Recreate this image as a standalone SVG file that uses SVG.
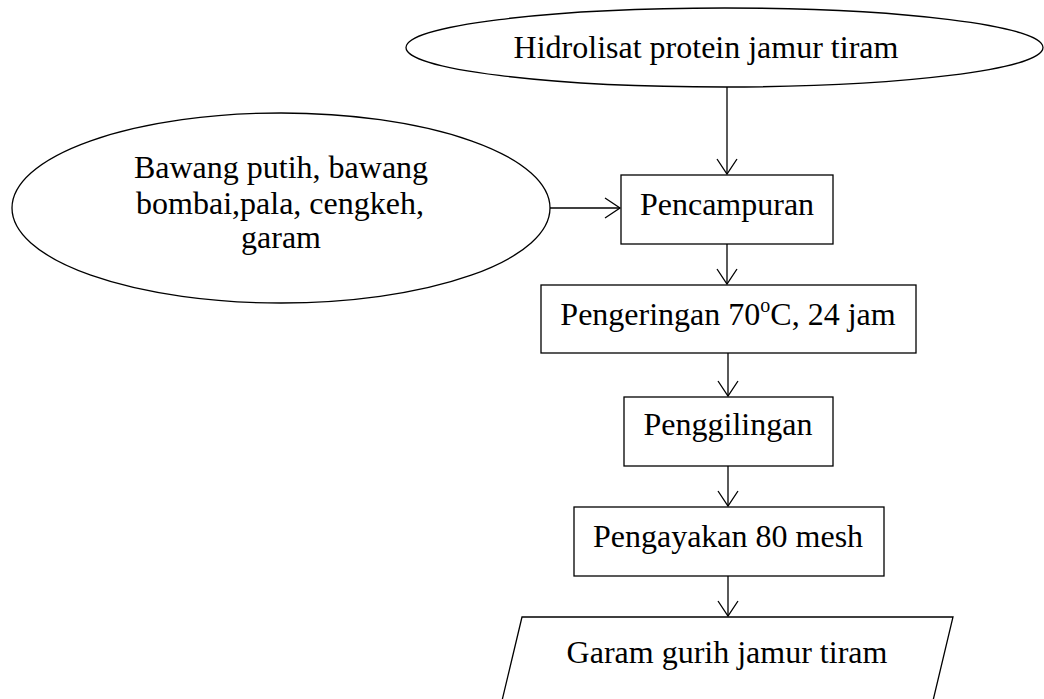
<svg xmlns="http://www.w3.org/2000/svg" width="1044" height="699" viewBox="0 0 1044 699">
<style>
.shape{fill:#ffffff;stroke:#000000;stroke-width:1.3}
.lbl{font-family:"Liberation Serif","Times New Roman",serif;font-size:32px;fill:#000000;text-anchor:middle}
.conn{fill:none;stroke:#000000;stroke-width:1.3}
</style>
<defs>
<marker id="arr" viewBox="-17 -12 19 24" markerWidth="19" markerHeight="24" refX="0" refY="0" orient="auto" markerUnits="userSpaceOnUse">
<path d="M-15,-10 L0,0 L-15,10" fill="none" stroke="#000000" stroke-width="1.3"/>
</marker>
</defs>
<rect x="0" y="0" width="1044" height="699" fill="#ffffff"/>
<g id="connectors">
<line class="conn" x1="727" y1="87" x2="727" y2="174" marker-end="url(#arr)"/>
<line class="conn" x1="550" y1="208" x2="620" y2="208" marker-end="url(#arr)"/>
<line class="conn" x1="727" y1="244" x2="727" y2="284" marker-end="url(#arr)"/>
<line class="conn" x1="728" y1="353" x2="728" y2="396" marker-end="url(#arr)"/>
<line class="conn" x1="728" y1="466" x2="728" y2="506" marker-end="url(#arr)"/>
<line class="conn" x1="728" y1="576" x2="728" y2="616" marker-end="url(#arr)"/>
</g>
<g id="node-hidrolisat">
<ellipse class="shape" cx="724.5" cy="47.5" rx="318.5" ry="39.5"/>
<text class="lbl" x="706" y="58">Hidrolisat protein jamur tiram</text>
</g>
<g id="node-bumbu">
<ellipse class="shape" cx="281" cy="208" rx="269" ry="95"/>
<text class="lbl" x="281" y="178">Bawang putih, bawang</text>
<text class="lbl" x="280" y="214">bombai,pala, cengkeh,</text>
<text class="lbl" x="281" y="248">garam</text>
</g>
<g id="node-pencampuran">
<rect class="shape" x="621" y="175" width="212" height="69"/>
<text class="lbl" x="727" y="215">Pencampuran</text>
</g>
<g id="node-pengeringan">
<rect class="shape" x="541" y="285" width="375" height="68"/>
<text class="lbl" x="728" y="325">Pengeringan 70<tspan font-size="20" dy="-13">o</tspan><tspan dy="13">C, 24 jam</tspan></text>
</g>
<g id="node-penggilingan">
<rect class="shape" x="624" y="397" width="209" height="69"/>
<text class="lbl" x="728" y="435">Penggilingan</text>
</g>
<g id="node-pengayakan">
<rect class="shape" x="574" y="507" width="310" height="69"/>
<text class="lbl" x="728" y="547">Pengayakan 80 mesh</text>
</g>
<g id="node-garam">
<polygon class="shape" points="522,617 953,617 926,730 495,730"/>
<text class="lbl" x="727" y="663">Garam gurih jamur tiram</text>
</g>
</svg>
